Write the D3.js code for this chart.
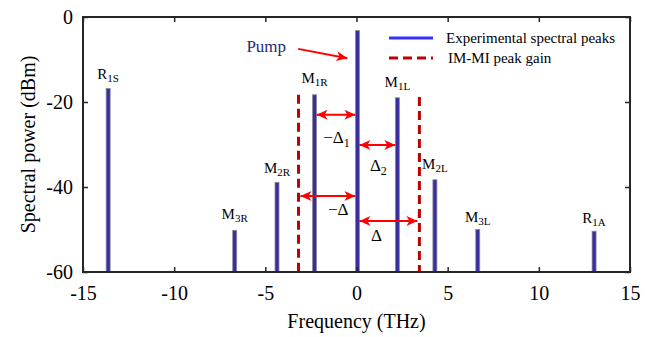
<!DOCTYPE html>
<html><head><meta charset="utf-8">
<script src="https://cdn.jsdelivr.net/npm/d3@7"></script>
<style>body{margin:0;background:#fff}svg{display:block}</style>
</head><body><svg id="c" width="661" height="337"></svg>
<script>
const peakNames = ["R1S","M3R","M2R","M1R","Pump","M1L","M2L","M3L","R1A"];
const peakFreq  = [-13.62,-6.68,-4.36,-2.3,0.05,2.24,4.3,6.65,13.03];
const peakPower = [-16.8,-50.2,-38.9,-18.3,-3.2,-19.0,-38.3,-50.0,-50.4];
const gainFreq  = [-3.18, 3.45];
const gainTop   = [-18.3, -18.8];
const xTicks = [-15,-10,-5,0,5,10,15];
const yTicks = [-60,-40,-20,0];
const labelMain = ["R","M","M","M","M","M","M","R"];
const labelSub  = ["1S","3R","2R","1R","1L","2L","3L","1A"];
const labelFreq = [-13.62,-6.68,-4.36,-2.3,2.24,4.3,6.65,13.03];
const labelPow  = [-14.6,-47.6,-36.6,-15.5,-16.4,-35.7,-48.3,-48.5];
const arrowX1 = [-2.3, 0.05, -3.18, 0.05];
const arrowX2 = [0.05, 2.24, 0.05, 3.45];
const arrowY  = [-23.0, -30.1, -42.1, -48.0];
const deltaText = ["\u2212\u0394","\u0394","\u2212\u0394","\u0394"];
const deltaSub  = ["1","2","",""];
const deltaX = [-1.1, 1.2, -1.0, 1.1];
const deltaY = [-29.7, -36.2, -46.5, -52.6];

const FONT = "Liberation Serif";
const svg = d3.select("#c").attr("font-family",FONT);
const L=83,R=630,T=17,B=272;
const x = d3.scaleLinear().domain([-15,15]).range([L,R]);
const y = d3.scaleLinear().domain([-60,0]).range([B,T]);

const defs = svg.append("defs");
defs.append("marker").attr("id","ah").attr("viewBox","-12 -6 14 12")
  .attr("refX",0).attr("refY",0).attr("markerWidth",14).attr("markerHeight",12)
  .attr("markerUnits","userSpaceOnUse").attr("orient","auto-start-reverse")
  .append("path").attr("d","M0,0 L-11,-5 L-8,0 L-11,5 Z").attr("fill","#ff0000");

svg.selectAll(".gain").data(gainFreq).join("line")
  .attr("x1",d=>x(d)).attr("x2",d=>x(d))
  .attr("y1",(d,i)=>y(gainTop[i])).attr("y2",y(-60))
  .attr("stroke","#c00000").attr("stroke-width",3).attr("stroke-dasharray","9,5");

svg.selectAll(".bar").data(peakFreq).join("rect")
  .attr("x",d=>x(d)-2).attr("width",4)
  .attr("y",(d,i)=>y(peakPower[i])).attr("height",(d,i)=>y(-60)-y(peakPower[i]))
  .attr("fill","#3a2d9e").attr("stroke","#8a8a9a").attr("stroke-width",0.8);

const g = svg.append("g");
const ax = (sel)=>{sel.select(".domain").remove(); sel.attr("font-family",FONT);};
g.append("g").attr("transform",`translate(0,${B})`)
  .call(d3.axisBottom(x).tickValues(xTicks).tickSize(-5).tickPadding(14).tickFormat(d=>d))
  .call(ax).call(s=>s.selectAll("text").attr("font-size",20).attr("fill","#000").attr("font-family",FONT))
  .call(s=>s.selectAll("line").attr("stroke","#262626").attr("stroke-width",1.5));
g.append("g").attr("transform",`translate(${L},0)`)
  .call(d3.axisLeft(y).tickValues(yTicks).tickSize(-5).tickPadding(10).tickFormat(d=>d))
  .call(ax).call(s=>s.selectAll("text").attr("font-size",20).attr("fill","#000").attr("font-family",FONT))
  .call(s=>s.selectAll("line").attr("stroke","#262626").attr("stroke-width",1.5));
g.append("g").attr("transform",`translate(0,${T})`)
  .call(d3.axisTop(x).tickValues(xTicks).tickSize(-5).tickFormat(""))
  .call(ax).call(s=>s.selectAll("line").attr("stroke","#262626").attr("stroke-width",1.5));
g.append("g").attr("transform",`translate(${R},0)`)
  .call(d3.axisRight(y).tickValues(yTicks).tickSize(-5).tickFormat(""))
  .call(ax).call(s=>s.selectAll("line").attr("stroke","#262626").attr("stroke-width",1.5));
svg.append("rect").attr("x",L).attr("y",T).attr("width",R-L).attr("height",B-T)
  .attr("fill","none").attr("stroke","#262626").attr("stroke-width",2);

svg.append("text").attr("x",(L+R)/2).attr("y",328).attr("text-anchor","middle")
  .attr("font-family",FONT).attr("font-size",20).text("Frequency (THz)");
svg.append("text").attr("transform",`translate(35,${(T+B)/2}) rotate(-90)`).attr("text-anchor","middle")
  .attr("font-family",FONT).attr("font-size",20).text("Spectral power (dBm)");

labelMain.forEach((m,i)=>{
  const t = svg.append("text").attr("x",x(labelFreq[i])).attr("y",y(labelPow[i]))
    .attr("text-anchor","middle").attr("font-family",FONT).attr("font-size",15).attr("fill","#000");
  t.append("tspan").text(m);
  t.append("tspan").attr("font-size",11).attr("dy",3).text(labelSub[i]);
});

svg.append("text").attr("x",x(-4.95)).attr("y",y(-8.3)).attr("font-family",FONT).attr("font-size",17)
  .attr("fill","#1f2a7a").attr("text-anchor","middle").text("Pump");
svg.append("line").attr("x1",x(-3.2)).attr("y1",y(-7.5)).attr("x2",x(-0.5)).attr("y2",y(-9.7))
  .attr("stroke","#ff0000").attr("stroke-width",2).attr("marker-end","url(#ah)");

arrowY.forEach((v,i)=>{
  svg.append("line").attr("x1",x(arrowX1[i])+2).attr("x2",x(arrowX2[i])-2)
    .attr("y1",y(v)).attr("y2",y(v)).attr("stroke","#ff0000").attr("stroke-width",2)
    .attr("marker-start","url(#ah)").attr("marker-end","url(#ah)");
  const t = svg.append("text").attr("x",x(deltaX[i])).attr("y",y(deltaY[i]))
    .attr("text-anchor","middle").attr("font-family",FONT).attr("font-size",17).attr("fill","#000");
  t.append("tspan").text(deltaText[i]);
  if (deltaSub[i]) t.append("tspan").attr("font-size",12).attr("dy",4).text(deltaSub[i]);
});

const lg = svg.append("g");
lg.append("line").attr("x1",389).attr("x2",433).attr("y1",38).attr("y2",38)
  .attr("stroke","#3333ff").attr("stroke-width",3);
lg.append("text").attr("x",446).attr("y",43).attr("font-family",FONT).attr("font-size",15).text("Experimental spectral peaks");
lg.append("line").attr("x1",389).attr("x2",433).attr("y1",58).attr("y2",58)
  .attr("stroke","#c00000").attr("stroke-width",3).attr("stroke-dasharray","9,5");
lg.append("text").attr("x",448).attr("y",63).attr("font-family",FONT).attr("font-size",15).text("IM-MI peak gain");
</script></body></html>
